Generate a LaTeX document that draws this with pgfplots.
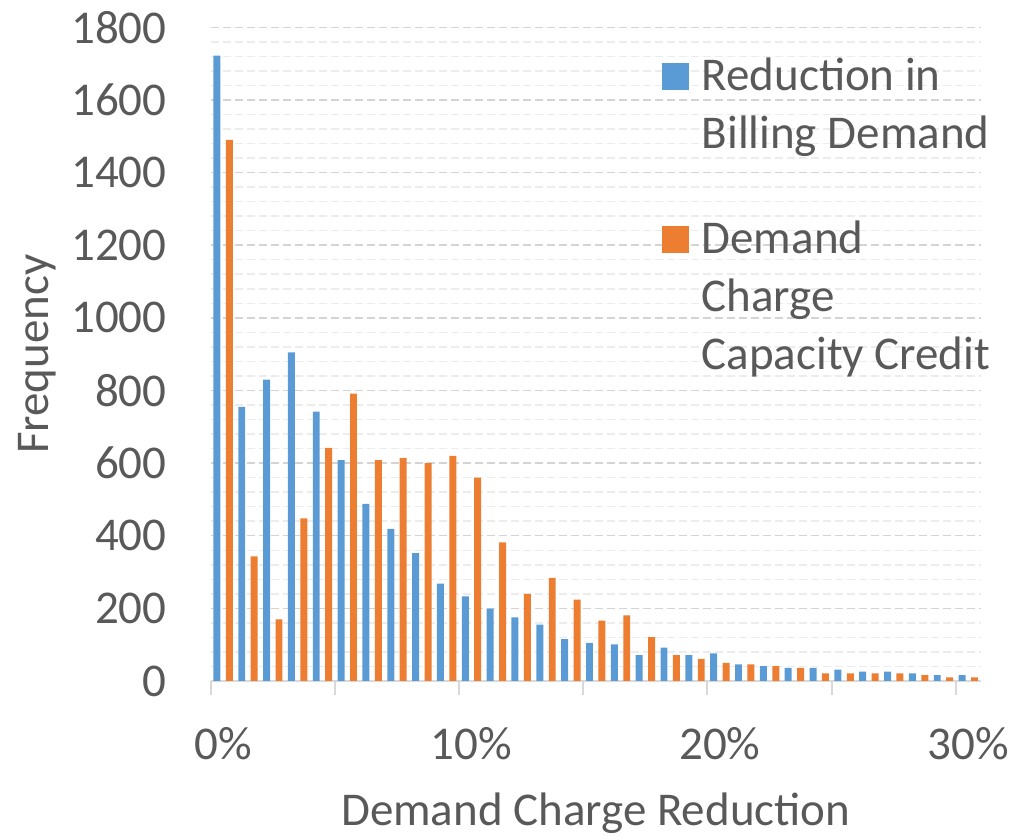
\documentclass[border=0pt]{standalone}
\usepackage{pgfplots}
\pgfplotsset{compat=1.18}
\usepackage{pgfplotstable}
\usepackage{fontspec}
\setmainfont{Carlito}
\definecolor{bluebar}{HTML}{5B9BD5}
\definecolor{orangebar}{HTML}{ED7D31}
\definecolor{txt}{HTML}{595959}
\definecolor{majgrid}{HTML}{D4D4D4}
\definecolor{mingrid}{HTML}{ECECEC}
\definecolor{axisgray}{HTML}{D9D9D9}

\pgfplotstableread{
x b o
0 1722 1490
1 755 343
2 830 170
3 905 448
4 742 642
5 608 791
6 488 608
7 419 614
8 352 600
9 268 620
10 233 560
11 199 382
12 175 240
13 155 284
14 115 224
15 105 166
16 101 181
17 71 121
18 92 71
19 71 61
20 76 50
21 46 46
22 41 41
23 36 36
24 36 21
25 31 21
26 26 21
27 26 21
28 21 16
29 16 10
30 16 10
}\datatable

\begin{document}
\begin{tikzpicture}
\begin{axis}[
  name=ax,
  at={(0,0)}, anchor=south west,
  scale only axis, width=385pt, height=326.85pt,
  xmin=-0.5, xmax=30.5, ymin=0, ymax=1800,
  axis x line*=bottom, axis y line*=left,
  x axis line style={draw=axisgray, line width=1pt, -},
  y axis line style={draw=none},
  xtick={0,10,20,30}, xticklabels={0\%,10\%,20\%,30\%},
  minor xtick={-0.5,4.5,...,29.5},
  ytick={0,200,...,1800},
  yticklabels={0,200,400,600,800,1000,1200,1400,1600,1800},
  minor ytick={40,80,...,1760},
  major tick length=0pt, minor tick length=7pt, tick align=outside,
  minor x tick style={draw=axisgray, line width=1pt},
  minor y tick style={draw=none},
  ymajorgrids, yminorgrids,
  major grid style={draw=majgrid, line width=0.75pt, dash pattern=on 4pt off 2pt},
  minor grid style={draw=mingrid, line width=0.75pt, dash pattern=on 4pt off 2pt},
  tick label style={font=\fontsize{23.5}{28}\selectfont, text=txt, inner sep=0pt},
  xticklabel style={anchor=north, yshift=-23pt},
  yticklabel style={anchor=east, xshift=-21.85pt},
  xlabel={Demand Charge Reduction},
  ylabel={Frequency},
  label style={font=\fontsize{23.5}{28}\selectfont, text=txt},
  xlabel style={at={(axis description cs:0.5,-0.2203)}, anchor=base},
  ylabel style={at={(axis description cs:-0.2109,0.5)}, anchor=base},
  legend cell align=left,
  legend style={draw=none, fill=none, inner sep=0pt, outer sep=0pt,
    at={(0.5857,0.9668)}, anchor=north west, column sep=6.5pt, row sep=0pt,
    font=\fontsize{23.5}{28}\selectfont, text=txt,
    nodes={inner xsep=0pt, inner ysep=0pt, text height=20.5pt, text depth=8.5pt}},
]
\addplot[ybar, bar width=0.28, bar shift=-0.25, fill=bluebar, draw=none,
  legend image code/.code={\fill[bluebar] (0pt,-6pt) rectangle (13.5pt,7.5pt);}]
  table[x=x,y=b]{\datatable};
\addlegendentry{Reduction in}
\addlegendimage{empty legend}
\addlegendentry{Billing Demand}
\addlegendimage{empty legend}
\addlegendentry[text height=15.5pt, text depth=8pt]{}
\addplot[ybar, bar width=0.28, bar shift=0.25, fill=orangebar, draw=none,
  legend image code/.code={\fill[orangebar] (0pt,-6pt) rectangle (13.5pt,7.5pt);}]
  table[x=x,y=o]{\datatable};
\addlegendentry{Demand}
\addlegendimage{empty legend}
\addlegendentry{Charge}
\addlegendimage{empty legend}
\addlegendentry{Capacity Credit}
\end{axis}
\path (-105.35pt,-75.5pt) rectangle (401.65pt,340.5pt);
\end{tikzpicture}
\end{document}
